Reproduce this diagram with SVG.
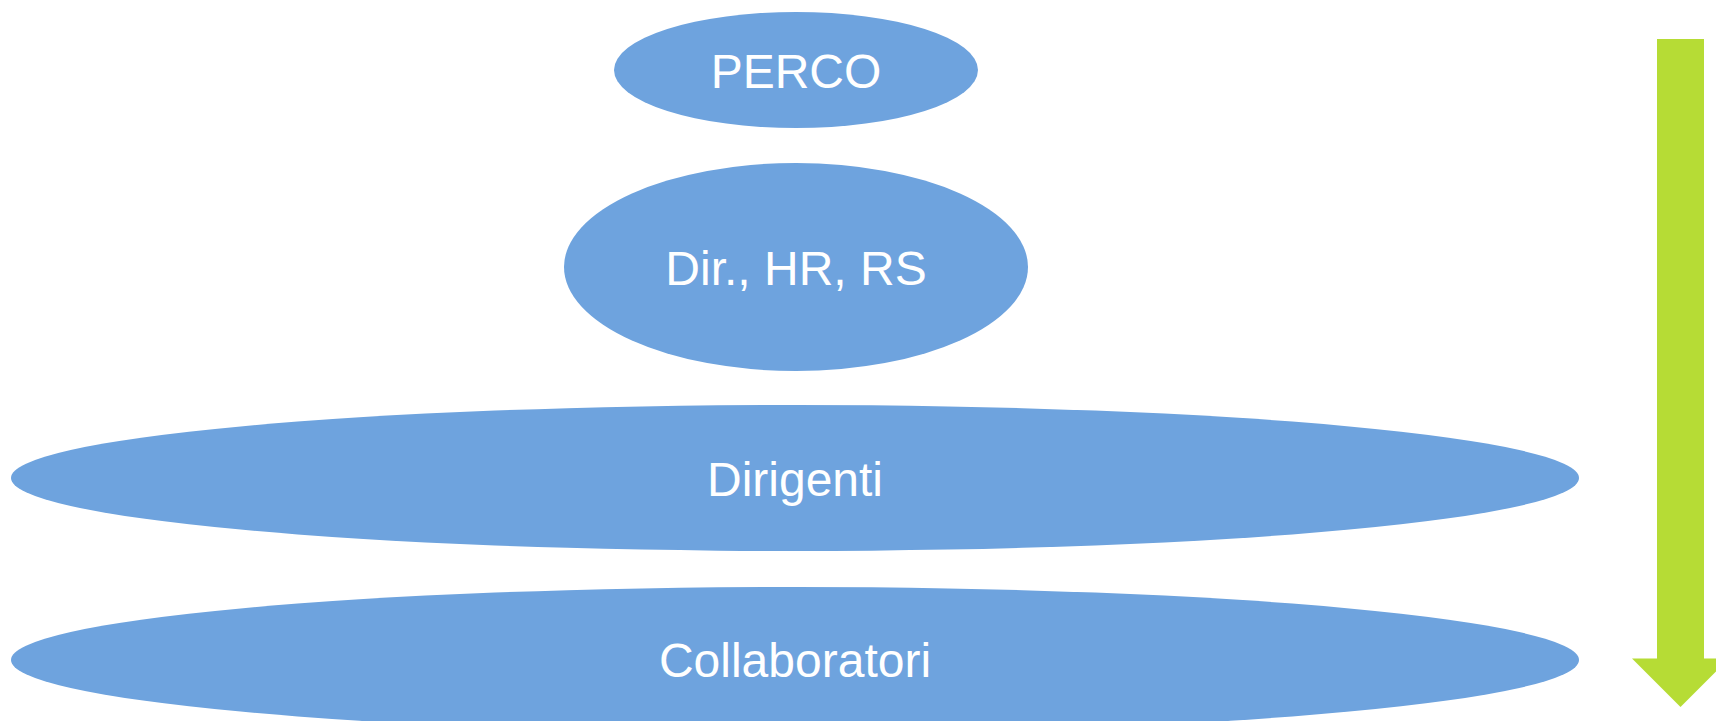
<svg xmlns="http://www.w3.org/2000/svg" width="1716" height="721" viewBox="0 0 1716 721">
<style>
.node{fill:#6EA3DE}
.lbl{font-family:"Liberation Sans",Arial,sans-serif;font-size:48px;fill:#ffffff;text-anchor:middle}
</style>
<rect width="1716" height="721" fill="#ffffff"/>
<g id="perco"><ellipse class="node" cx="796" cy="70" rx="182" ry="58"/><text class="lbl" x="796" y="88">PERCO</text></g>
<g id="dir"><ellipse class="node" cx="796" cy="267" rx="232" ry="104"/><text class="lbl" x="796" y="285">Dir., HR, RS</text></g>
<g id="dirigenti"><ellipse class="node" cx="795" cy="478" rx="784" ry="73"/><text class="lbl" x="795" y="496">Dirigenti</text></g>
<g id="collaboratori"><ellipse class="node" cx="795" cy="660" rx="784" ry="73"/><text class="lbl" x="795" y="677">Collaboratori</text></g>
<g id="connectors"><polygon points="1657,39 1704,39 1704,658.5 1729,658.5 1680.5,707 1632,658.5 1657,658.5" fill="#B6DC35"/></g>
</svg>
